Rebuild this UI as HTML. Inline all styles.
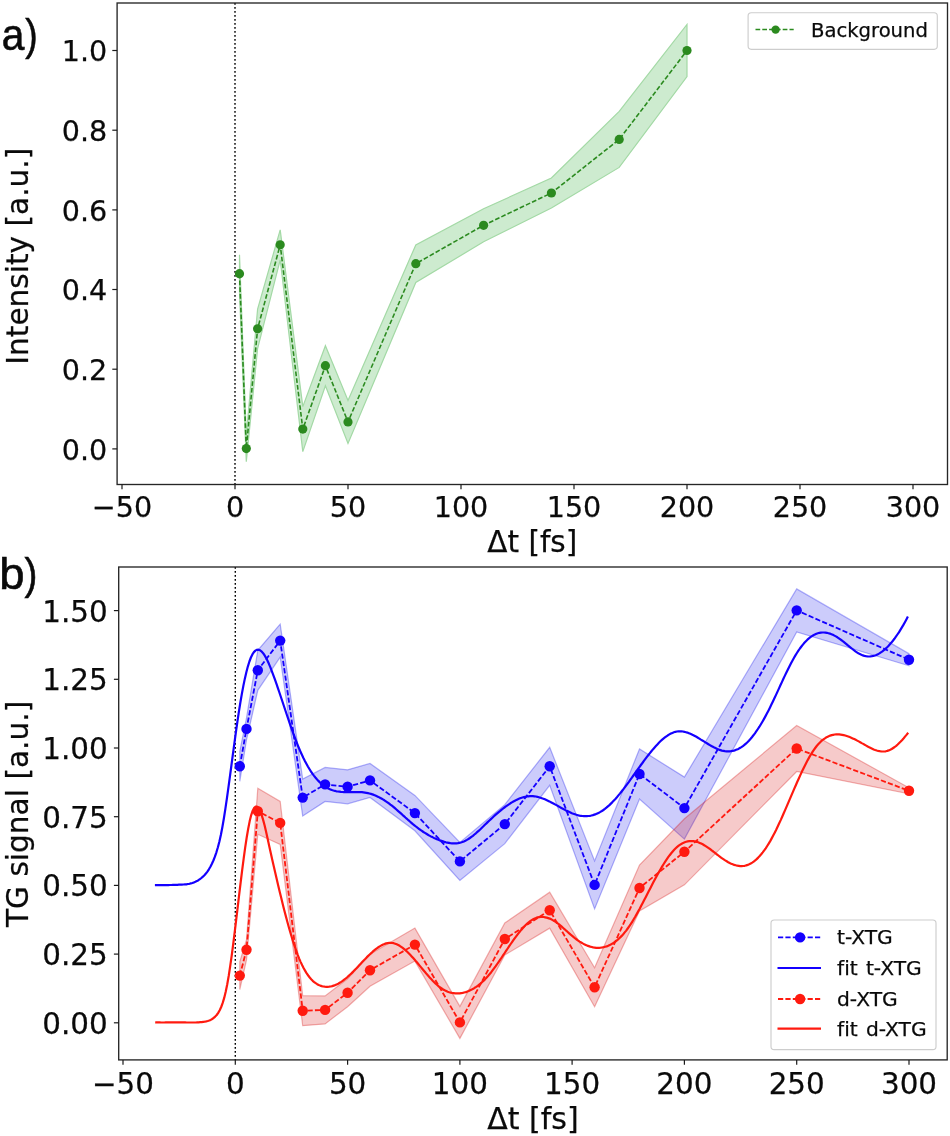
<!DOCTYPE html>
<html lang="en"><head><meta charset="utf-8"><title>Background and TG signal vs delay</title>
<style>html,body{margin:0;padding:0;background:#fff}body{width:950px;height:1136px;overflow:hidden}svg{display:block}text{font-family:"DejaVu Sans", "Liberation Sans", sans-serif;fill:#0a0a0a;stroke:#0a0a0a;stroke-width:.25px;font-variant-ligatures:none;font-kerning:none}</style>
</head><body>
<svg width="950" height="1136" viewBox="0 0 950 1136">
<rect width="950" height="1136" fill="#fff"/>
<g id="panel-a">
<line x1="235" y1="3" x2="235" y2="484.5" stroke="#000" stroke-width="1.4" stroke-dasharray="1.7 2.3"/>
<polygon points="239.5,254.7 246.3,435.4 257.6,309.1 280.2,229.8 302.8,406.6 325.4,345.7 348,400.4 415.8,244.9 483.6,208.8 551.4,178 619.2,111.4 687,24.5 687,76.5 619.2,167.4 551.4,208 483.6,241.8 415.8,282.5 348,443.4 325.4,385.7 302.8,451.6 280.2,259.8 257.6,348.5 246.3,461.8 239.5,292.7" fill="#cdebcf" stroke="#a3d9a5" stroke-width="1.2" stroke-linejoin="miter"/>
<polyline points="239.5,273.7 246.3,448.6 257.6,328.8 280.2,244.8 302.8,429.1 325.4,365.7 348,421.9 415.8,263.7 483.6,225.3 551.4,193 619.2,139.4 687,50.5" fill="none" stroke="#2b8a1f" stroke-width="1.6" stroke-dasharray="4.7 2.1"/>
<circle cx="239.5" cy="273.7" r="4.6" fill="#2b8a1f"/>
<circle cx="246.3" cy="448.6" r="4.6" fill="#2b8a1f"/>
<circle cx="257.6" cy="328.8" r="4.6" fill="#2b8a1f"/>
<circle cx="280.2" cy="244.8" r="4.6" fill="#2b8a1f"/>
<circle cx="302.8" cy="429.1" r="4.6" fill="#2b8a1f"/>
<circle cx="325.4" cy="365.7" r="4.6" fill="#2b8a1f"/>
<circle cx="348" cy="421.9" r="4.6" fill="#2b8a1f"/>
<circle cx="415.8" cy="263.7" r="4.6" fill="#2b8a1f"/>
<circle cx="483.6" cy="225.3" r="4.6" fill="#2b8a1f"/>
<circle cx="551.4" cy="193" r="4.6" fill="#2b8a1f"/>
<circle cx="619.2" cy="139.4" r="4.6" fill="#2b8a1f"/>
<circle cx="687" cy="50.5" r="4.6" fill="#2b8a1f"/>
<rect x="117.1" y="3" width="830.4" height="481.5" fill="none" stroke="#262626" stroke-width="1.35"/>
<line x1="122" y1="484.5" x2="122" y2="489.3" stroke="#1a1a1a" stroke-width="1.2"/>
<text x="122" y="516.8" font-size="28.6" text-anchor="middle">−50</text>
<line x1="235" y1="484.5" x2="235" y2="489.3" stroke="#1a1a1a" stroke-width="1.2"/>
<text x="235" y="516.8" font-size="28.6" text-anchor="middle">0</text>
<line x1="348" y1="484.5" x2="348" y2="489.3" stroke="#1a1a1a" stroke-width="1.2"/>
<text x="348" y="516.8" font-size="28.6" text-anchor="middle">50</text>
<line x1="461" y1="484.5" x2="461" y2="489.3" stroke="#1a1a1a" stroke-width="1.2"/>
<text x="461" y="516.8" font-size="28.6" text-anchor="middle">100</text>
<line x1="574" y1="484.5" x2="574" y2="489.3" stroke="#1a1a1a" stroke-width="1.2"/>
<text x="574" y="516.8" font-size="28.6" text-anchor="middle">150</text>
<line x1="687" y1="484.5" x2="687" y2="489.3" stroke="#1a1a1a" stroke-width="1.2"/>
<text x="687" y="516.8" font-size="28.6" text-anchor="middle">200</text>
<line x1="800" y1="484.5" x2="800" y2="489.3" stroke="#1a1a1a" stroke-width="1.2"/>
<text x="800" y="516.8" font-size="28.6" text-anchor="middle">250</text>
<line x1="913" y1="484.5" x2="913" y2="489.3" stroke="#1a1a1a" stroke-width="1.2"/>
<text x="913" y="516.8" font-size="28.6" text-anchor="middle">300</text>
<line x1="112.3" y1="448.9" x2="117.1" y2="448.9" stroke="#1a1a1a" stroke-width="1.2"/>
<text x="107.3" y="459.6" font-size="28.6" text-anchor="end">0.0</text>
<line x1="112.3" y1="369.2" x2="117.1" y2="369.2" stroke="#1a1a1a" stroke-width="1.2"/>
<text x="107.3" y="379.9" font-size="28.6" text-anchor="end">0.2</text>
<line x1="112.3" y1="289.5" x2="117.1" y2="289.5" stroke="#1a1a1a" stroke-width="1.2"/>
<text x="107.3" y="300.2" font-size="28.6" text-anchor="end">0.4</text>
<line x1="112.3" y1="209.9" x2="117.1" y2="209.9" stroke="#1a1a1a" stroke-width="1.2"/>
<text x="107.3" y="220.6" font-size="28.6" text-anchor="end">0.6</text>
<line x1="112.3" y1="130.2" x2="117.1" y2="130.2" stroke="#1a1a1a" stroke-width="1.2"/>
<text x="107.3" y="140.9" font-size="28.6" text-anchor="end">0.8</text>
<line x1="112.3" y1="50.5" x2="117.1" y2="50.5" stroke="#1a1a1a" stroke-width="1.2"/>
<text x="107.3" y="61.2" font-size="28.6" text-anchor="end">1.0</text>
<text x="532.3" y="552.3" font-size="29.5" text-anchor="middle">Δt [fs]</text>
<text transform="translate(27.9,256.2) rotate(-90)" font-size="29.6" text-anchor="middle">Intensity [a.u.]</text>
<rect x="748.1" y="12.7" width="189.2" height="36.6" rx="3.2" fill="#fff" stroke="#cdcdcd" stroke-width="1.15"/>
<line x1="755.5" y1="29.6" x2="793.7" y2="29.6" stroke="#2b8a1f" stroke-width="1.5" stroke-dasharray="4.7 2.1"/>
<circle cx="775.6" cy="29.6" r="4.2" fill="#2b8a1f"/>
<text x="811" y="36.5" font-size="19.6" style="font-kerning:normal">Background</text>
</g>
<g id="panel-b">
<line x1="235.3" y1="567" x2="235.3" y2="1059.9" stroke="#000" stroke-width="1.4" stroke-dasharray="1.7 2.3"/>
<polygon points="239.8,751.3 246.5,717.9 257.8,650.3 280.2,624.1 302.7,779.1 325.1,767.4 347.6,769.8 370,763.4 414.9,795.4 459.9,842.4 504.8,804.6 549.7,747.3 594.6,860.9 639.5,749 684.4,777.1 796.7,588.9 909,653.7 909,665.7 796.7,631.9 684.4,839.1 639.5,799 594.6,908.9 549.7,785.3 504.8,843.6 459.9,880.4 414.9,830.8 370,797.4 347.6,803.8 325.1,801.4 302.7,816.1 280.2,657.1 257.8,690.3 246.5,739.9 239.8,781.3" fill="rgba(0,0,235,.2)" stroke="rgba(0,0,235,.3)" stroke-width="1.2" stroke-linejoin="miter"/>
<polygon points="239.8,961.6 246.5,939.8 257.8,788.3 280.2,801.4 302.7,995.7 325.1,995.9 347.6,978.7 370,954.2 414.9,928.1 459.9,1006.4 504.8,923 549.7,892.2 594.6,967.8 639.5,865 684.4,818.8 796.7,725.5 909,787.8 909,793.8 796.7,771.5 684.4,884.8 639.5,911 594.6,1006.8 549.7,928.2 504.8,955 459.9,1038.4 414.9,961.1 370,986.2 347.6,1006.7 325.1,1023.9 302.7,1025.7 280.2,844.4 257.8,834.3 246.5,959.8 239.8,989.6" fill="rgba(212,0,0,.208)" stroke="rgba(212,0,0,.3)" stroke-width="1.2" stroke-linejoin="miter"/>
<polyline points="239.8,766.3 246.5,728.9 257.8,670.3 280.2,640.6 302.7,797.6 325.1,784.4 347.6,786.8 370,780.4 414.9,813.1 459.9,861.4 504.8,824.1 549.7,766.3 594.6,884.9 639.5,774 684.4,808.1 796.7,610.4 909,659.7" fill="none" stroke="#1400ff" stroke-width="1.8" stroke-dasharray="5.2 2.2"/>
<circle cx="239.8" cy="766.3" r="5.2" fill="#1400ff"/>
<circle cx="246.5" cy="728.9" r="5.2" fill="#1400ff"/>
<circle cx="257.8" cy="670.3" r="5.2" fill="#1400ff"/>
<circle cx="280.2" cy="640.6" r="5.2" fill="#1400ff"/>
<circle cx="302.7" cy="797.6" r="5.2" fill="#1400ff"/>
<circle cx="325.1" cy="784.4" r="5.2" fill="#1400ff"/>
<circle cx="347.6" cy="786.8" r="5.2" fill="#1400ff"/>
<circle cx="370" cy="780.4" r="5.2" fill="#1400ff"/>
<circle cx="414.9" cy="813.1" r="5.2" fill="#1400ff"/>
<circle cx="459.9" cy="861.4" r="5.2" fill="#1400ff"/>
<circle cx="504.8" cy="824.1" r="5.2" fill="#1400ff"/>
<circle cx="549.7" cy="766.3" r="5.2" fill="#1400ff"/>
<circle cx="594.6" cy="884.9" r="5.2" fill="#1400ff"/>
<circle cx="639.5" cy="774" r="5.2" fill="#1400ff"/>
<circle cx="684.4" cy="808.1" r="5.2" fill="#1400ff"/>
<circle cx="796.7" cy="610.4" r="5.2" fill="#1400ff"/>
<circle cx="909" cy="659.7" r="5.2" fill="#1400ff"/>
<path d="M154.9,885.1L156.4,885.1L157.9,885.1L159.4,885.1L160.9,885.1L162.4,885.1L163.9,885.1L165.4,885.1L166.9,885.1L168.4,885.1L169.9,885L171.4,885L172.9,884.9L174.4,884.9L175.9,884.8L177.4,884.8L178.9,884.7L180.4,884.7L181.9,884.6L183.4,884.5L184.9,884.4L186.4,884.3L187.9,884L189.4,883.8L190.9,883.4L192.4,883L193.9,882.4L195.4,881.8L196.9,881.1L198.4,880.2L199.9,879.2L201.4,878L202.9,876.7L204.4,875.2L205.9,873.5L207.4,871.6L208.9,869.3L210.4,866.8L211.9,863.8L213.4,860.5L214.9,856.7L216.4,852.3L217.9,847.3L219.4,841.5L220.9,834.8L222.4,827L223.9,818.2L225.4,808.6L226.9,798.4L228.4,787.7L229.9,776.7L231.4,765.5L232.9,754.2L234.4,743.1L235.9,732.2L237.4,721.6L238.9,711.6L240.4,702.3L241.9,693.6L243.4,685.6L244.9,678.4L246.4,672L247.9,666.3L249.4,661.5L250.9,657.5L252.4,654.4L253.9,652.1L255.4,650.6L256.9,649.8L258.4,649.7L259.9,650.2L261.4,651.3L262.9,652.9L264.4,655L265.9,657.6L267.4,660.5L268.9,663.8L270.4,667.4L271.9,671.3L273.4,675.3L274.9,679.4L276.4,683.7L277.9,688.1L279.4,692.5L280.9,697L282.4,701.5L283.9,706L285.4,710.5L286.9,715L288.4,719.4L289.9,723.8L291.4,728.1L292.9,732.4L294.4,736.5L295.9,740.5L297.4,744.3L298.9,748L300.4,751.5L301.9,754.8L303.4,758L304.9,761L306.4,763.8L307.9,766.5L309.4,769L310.9,771.4L312.4,773.6L313.9,775.6L315.4,777.5L316.9,779.3L318.4,780.9L319.9,782.4L321.4,783.8L322.9,785L324.4,786.1L325.9,787.1L327.4,788L328.9,788.8L330.4,789.4L331.9,790L333.4,790.5L334.9,790.9L336.4,791.3L337.9,791.5L339.4,791.7L340.9,791.9L342.4,792L343.9,792.1L345.4,792.1L346.9,792.2L348.4,792.2L349.9,792.1L351.4,792.1L352.9,792.1L354.4,792.1L355.9,792.1L357.4,792.1L358.9,792.1L360.4,792.2L361.9,792.2L363.4,792.4L364.9,792.6L366.4,792.8L367.9,793.1L369.4,793.5L370.9,793.9L372.4,794.4L373.9,794.9L375.4,795.5L376.9,796.2L378.4,796.9L379.9,797.7L381.4,798.5L382.9,799.4L384.4,800.3L385.9,801.3L387.4,802.3L388.9,803.4L390.4,804.6L391.9,805.7L393.4,806.9L394.9,808.2L396.4,809.5L397.9,810.8L399.4,812.1L400.9,813.4L402.4,814.8L403.9,816.1L405.4,817.5L406.9,818.8L408.4,820.2L409.9,821.5L411.4,822.8L412.9,824.1L414.4,825.3L415.9,826.5L417.4,827.7L418.9,828.8L420.4,829.9L421.9,830.9L423.4,832L424.9,832.9L426.4,833.8L427.9,834.7L429.4,835.6L430.9,836.4L432.4,837.1L433.9,837.9L435.4,838.5L436.9,839.2L438.4,839.8L439.9,840.4L441.4,840.9L442.9,841.4L444.4,841.9L445.9,842.3L447.4,842.6L448.9,842.9L450.4,843.2L451.9,843.3L453.4,843.4L454.9,843.4L456.4,843.3L457.9,843.1L459.4,842.8L460.9,842.5L462.4,842L463.9,841.4L465.4,840.7L466.9,839.9L468.4,839L469.9,838L471.4,836.9L472.9,835.8L474.4,834.5L475.9,833.3L477.4,831.9L478.9,830.6L480.4,829.2L481.9,827.7L483.4,826.3L484.9,824.8L486.4,823.4L487.9,821.9L489.4,820.5L490.9,819.1L492.4,817.7L493.9,816.3L495.4,814.9L496.9,813.6L498.4,812.3L499.9,811.1L501.4,809.8L502.9,808.6L504.4,807.5L505.9,806.4L507.4,805.3L508.9,804.3L510.4,803.3L511.9,802.4L513.4,801.5L514.9,800.7L516.4,799.9L517.9,799.2L519.4,798.6L520.9,798L522.4,797.5L523.9,797.1L525.4,796.8L526.9,796.5L528.4,796.3L529.9,796.2L531.4,796.1L532.9,796.2L534.4,796.3L535.9,796.5L537.4,796.8L538.9,797.2L540.4,797.7L541.9,798.2L543.4,798.7L544.9,799.3L546.4,800L547.9,800.7L549.4,801.4L550.9,802.2L552.4,803L553.9,803.8L555.4,804.6L556.9,805.4L558.4,806.3L559.9,807.1L561.4,808L562.9,808.8L564.4,809.6L565.9,810.4L567.4,811.1L568.9,811.8L570.4,812.5L571.9,813.2L573.4,813.8L574.9,814.3L576.4,814.8L577.9,815.2L579.4,815.6L580.9,815.8L582.4,816L583.9,816.1L585.4,816.2L586.9,816.1L588.4,816L589.9,815.8L591.4,815.5L592.9,815.1L594.4,814.6L595.9,814.1L597.4,813.4L598.9,812.7L600.4,811.9L601.9,811L603.4,810L604.9,808.9L606.4,807.7L607.9,806.4L609.4,805.1L610.9,803.6L612.4,802.1L613.9,800.5L615.4,798.9L616.9,797.2L618.4,795.4L619.9,793.6L621.4,791.7L622.9,789.8L624.4,787.8L625.9,785.8L627.4,783.8L628.9,781.8L630.4,779.7L631.9,777.6L633.4,775.5L634.9,773.4L636.4,771.3L637.9,769.2L639.4,767.1L640.9,765L642.4,763L643.9,760.9L645.4,758.9L646.9,756.9L648.4,755L649.9,753.1L651.4,751.2L652.9,749.4L654.4,747.7L655.9,746L657.4,744.4L658.9,742.8L660.4,741.3L661.9,739.9L663.4,738.6L664.9,737.4L666.4,736.3L667.9,735.3L669.4,734.4L670.9,733.5L672.4,732.9L673.9,732.3L675.4,731.8L676.9,731.5L678.4,731.3L679.9,731.3L681.4,731.3L682.9,731.5L684.4,731.8L685.9,732.2L687.4,732.6L688.9,733.2L690.4,733.8L691.9,734.5L693.4,735.2L694.9,736L696.4,736.8L697.9,737.7L699.4,738.6L700.9,739.6L702.4,740.5L703.9,741.4L705.4,742.4L706.9,743.3L708.4,744.2L709.9,745.1L711.4,746L712.9,746.8L714.4,747.6L715.9,748.3L717.4,749L718.9,749.6L720.4,750.1L721.9,750.6L723.4,750.9L724.9,751.2L726.4,751.3L727.9,751.4L729.4,751.3L730.9,751.2L732.4,750.9L733.9,750.6L735.4,750.1L736.9,749.5L738.4,748.9L739.9,748L741.4,747.1L742.9,746.1L744.4,744.9L745.9,743.6L747.4,742.2L748.9,740.7L750.4,739L751.9,737.2L753.4,735.3L754.9,733.3L756.4,731.2L757.9,729L759.4,726.7L760.9,724.2L762.4,721.7L763.9,719.1L765.4,716.4L766.9,713.6L768.4,710.7L769.9,707.7L771.4,704.6L772.9,701.5L774.4,698.3L775.9,695.1L777.4,691.9L778.9,688.6L780.4,685.3L781.9,682.1L783.4,678.8L784.9,675.6L786.4,672.5L787.9,669.4L789.4,666.4L790.9,663.5L792.4,660.7L793.9,658L795.4,655.4L796.9,653L798.4,650.7L799.9,648.5L801.4,646.5L802.9,644.6L804.4,642.8L805.9,641.2L807.4,639.7L808.9,638.4L810.4,637.2L811.9,636.1L813.4,635.2L814.9,634.4L816.4,633.7L817.9,633.2L819.4,632.8L820.9,632.6L822.4,632.5L823.9,632.5L825.4,632.6L826.9,632.8L828.4,633.2L829.9,633.6L831.4,634.2L832.9,634.8L834.4,635.6L835.9,636.4L837.4,637.3L838.9,638.3L840.4,639.4L841.9,640.5L843.4,641.7L844.9,642.9L846.4,644.1L847.9,645.4L849.4,646.6L850.9,647.8L852.4,649L853.9,650.2L855.4,651.3L856.9,652.3L858.4,653.3L859.9,654.1L861.4,654.8L862.9,655.4L864.4,655.9L865.9,656.2L867.4,656.4L868.9,656.5L870.4,656.4L871.9,656.2L873.4,655.9L874.9,655.5L876.4,654.9L877.9,654.2L879.4,653.4L880.9,652.4L882.4,651.4L883.9,650.2L885.4,648.9L886.9,647.5L888.4,646L889.9,644.3L891.4,642.6L892.9,640.7L894.4,638.8L895.9,636.7L897.4,634.5L898.9,632.3L900.4,629.9L901.9,627.4L903.4,624.9L904.9,622.2L906.4,619.4L907.9,616.6" fill="none" stroke="#1400ff" stroke-width="2.2" stroke-linejoin="round"/>
<polyline points="239.8,975.6 246.5,949.8 257.8,811.3 280.2,822.9 302.7,1010.7 325.1,1009.9 347.6,992.7 370,970.2 414.9,944.6 459.9,1022.4 504.8,939 549.7,910.2 594.6,987.3 639.5,888 684.4,851.8 796.7,748.5 909,790.8" fill="none" stroke="#ff1a0f" stroke-width="1.8" stroke-dasharray="5.2 2.2"/>
<circle cx="239.8" cy="975.6" r="5.2" fill="#ff1a0f"/>
<circle cx="246.5" cy="949.8" r="5.2" fill="#ff1a0f"/>
<circle cx="257.8" cy="811.3" r="5.2" fill="#ff1a0f"/>
<circle cx="280.2" cy="822.9" r="5.2" fill="#ff1a0f"/>
<circle cx="302.7" cy="1010.7" r="5.2" fill="#ff1a0f"/>
<circle cx="325.1" cy="1009.9" r="5.2" fill="#ff1a0f"/>
<circle cx="347.6" cy="992.7" r="5.2" fill="#ff1a0f"/>
<circle cx="370" cy="970.2" r="5.2" fill="#ff1a0f"/>
<circle cx="414.9" cy="944.6" r="5.2" fill="#ff1a0f"/>
<circle cx="459.9" cy="1022.4" r="5.2" fill="#ff1a0f"/>
<circle cx="504.8" cy="939" r="5.2" fill="#ff1a0f"/>
<circle cx="549.7" cy="910.2" r="5.2" fill="#ff1a0f"/>
<circle cx="594.6" cy="987.3" r="5.2" fill="#ff1a0f"/>
<circle cx="639.5" cy="888" r="5.2" fill="#ff1a0f"/>
<circle cx="684.4" cy="851.8" r="5.2" fill="#ff1a0f"/>
<circle cx="796.7" cy="748.5" r="5.2" fill="#ff1a0f"/>
<circle cx="909" cy="790.8" r="5.2" fill="#ff1a0f"/>
<path d="M155.2,1022.3L156.7,1022.4L158.2,1022.4L159.7,1022.4L161.2,1022.5L162.7,1022.5L164.2,1022.5L165.7,1022.4L167.2,1022.4L168.7,1022.4L170.2,1022.4L171.7,1022.4L173.2,1022.3L174.7,1022.3L176.2,1022.3L177.7,1022.3L179.2,1022.3L180.7,1022.3L182.2,1022.4L183.7,1022.4L185.2,1022.4L186.7,1022.5L188.2,1022.5L189.7,1022.5L191.2,1022.5L192.7,1022.5L194.2,1022.5L195.7,1022.5L197.2,1022.4L198.7,1022.3L200.2,1022.2L201.7,1022.1L203.2,1021.9L204.7,1021.7L206.2,1021.4L207.7,1021L209.2,1020.5L210.7,1019.9L212.2,1019L213.7,1017.9L215.2,1016.6L216.7,1015L218.2,1012.9L219.7,1010.3L221.2,1007L222.7,1002.9L224.2,997.9L225.7,991.8L227.2,984.5L228.7,976L230.2,966.2L231.7,955.6L233.2,944.1L234.7,932.1L236.2,919.7L237.7,907.1L239.2,894.4L240.7,882L242.2,869.8L243.7,858.3L245.2,847.4L246.7,837.5L248.2,828.7L249.7,821.1L251.2,815.1L252.7,810.7L254.2,807.8L255.7,806.5L257.2,806.7L258.7,808.3L260.2,811.1L261.7,815.1L263.2,820.1L264.7,825.8L266.2,832.2L267.7,839L269.2,845.9L270.7,852.7L272.2,859.4L273.7,866L275.2,872.5L276.7,879L278.2,885.4L279.7,891.7L281.2,897.8L282.7,903.9L284.2,909.9L285.7,915.6L287.2,921.3L288.7,926.7L290.2,932L291.7,937L293.2,941.8L294.7,946.4L296.2,950.7L297.7,954.8L299.2,958.6L300.7,962.1L302.2,965.3L303.7,968.3L305.2,970.9L306.7,973.4L308.2,975.5L309.7,977.5L311.2,979.2L312.7,980.8L314.2,982.1L315.7,983.2L317.2,984.2L318.7,985L320.2,985.6L321.7,986.1L323.2,986.5L324.7,986.7L326.2,986.8L327.7,986.8L329.2,986.7L330.7,986.5L332.2,986.1L333.7,985.6L335.2,985.1L336.7,984.4L338.2,983.7L339.7,982.8L341.2,981.9L342.7,980.9L344.2,979.7L345.7,978.5L347.2,977.3L348.7,975.9L350.2,974.5L351.7,973.1L353.2,971.6L354.7,970L356.2,968.5L357.7,966.9L359.2,965.3L360.7,963.7L362.2,962.1L363.7,960.5L365.2,959L366.7,957.4L368.2,955.9L369.7,954.5L371.2,953.1L372.7,951.7L374.2,950.4L375.7,949.2L377.2,948.1L378.7,947L380.2,946.1L381.7,945.3L383.2,944.5L384.7,943.9L386.2,943.4L387.7,943.1L389.2,942.9L390.7,942.8L392.2,943L393.7,943.2L395.2,943.7L396.7,944.3L398.2,945L399.7,945.8L401.2,946.8L402.7,947.9L404.2,949.1L405.7,950.4L407.2,951.8L408.7,953.3L410.2,954.8L411.7,956.4L413.2,958.1L414.7,959.8L416.2,961.6L417.7,963.3L419.2,965.1L420.7,966.9L422.2,968.7L423.7,970.5L425.2,972.3L426.7,974.1L428.2,975.8L429.7,977.5L431.2,979.1L432.7,980.7L434.2,982.2L435.7,983.7L437.2,985L438.7,986.3L440.2,987.5L441.7,988.5L443.2,989.5L444.7,990.3L446.2,991L447.7,991.7L449.2,992.2L450.7,992.6L452.2,993L453.7,993.2L455.2,993.4L456.7,993.4L458.2,993.4L459.7,993.3L461.2,993.1L462.7,992.9L464.2,992.5L465.7,992.1L467.2,991.6L468.7,991L470.2,990.3L471.7,989.6L473.2,988.8L474.7,987.8L476.2,986.9L477.7,985.8L479.2,984.6L480.7,983.4L482.2,982L483.7,980.6L485.2,979.1L486.7,977.5L488.2,975.8L489.7,974L491.2,972.2L492.7,970.2L494.2,968.2L495.7,966.2L497.2,964L498.7,961.9L500.2,959.7L501.7,957.5L503.2,955.2L504.7,953L506.2,950.7L507.7,948.5L509.2,946.2L510.7,944L512.2,941.9L513.7,939.7L515.2,937.6L516.7,935.6L518.2,933.6L519.7,931.7L521.2,929.9L522.7,928.2L524.2,926.5L525.7,925L527.2,923.6L528.7,922.3L530.2,921.1L531.7,920.1L533.2,919.2L534.7,918.5L536.2,917.9L537.7,917.4L539.2,917.1L540.7,917L542.2,917L543.7,917L545.2,917.3L546.7,917.6L548.2,918.1L549.7,918.6L551.2,919.3L552.7,920.1L554.2,921L555.7,921.9L557.2,923L558.7,924.2L560.2,925.4L561.7,926.7L563.2,928L564.7,929.3L566.2,930.7L567.7,932L569.2,933.4L570.7,934.7L572.2,935.9L573.7,937.2L575.2,938.4L576.7,939.5L578.2,940.6L579.7,941.6L581.2,942.5L582.7,943.4L584.2,944.2L585.7,944.9L587.2,945.6L588.7,946.1L590.2,946.6L591.7,947L593.2,947.4L594.7,947.6L596.2,947.8L597.7,947.8L599.2,947.8L600.7,947.7L602.2,947.5L603.7,947.2L605.2,946.8L606.7,946.4L608.2,945.8L609.7,945.1L611.2,944.3L612.7,943.4L614.2,942.4L615.7,941.3L617.2,940.1L618.7,938.8L620.2,937.4L621.7,935.9L623.2,934.2L624.7,932.4L626.2,930.6L627.7,928.5L629.2,926.4L630.7,924.2L632.2,921.8L633.7,919.3L635.2,916.8L636.7,914.1L638.2,911.4L639.7,908.7L641.2,905.8L642.7,903L644.2,900.1L645.7,897.2L647.2,894.2L648.7,891.3L650.2,888.4L651.7,885.5L653.2,882.6L654.7,879.8L656.2,877L657.7,874.2L659.2,871.6L660.7,869L662.2,866.4L663.7,864L665.2,861.6L666.7,859.4L668.2,857.2L669.7,855.2L671.2,853.3L672.7,851.5L674.2,849.8L675.7,848.3L677.2,846.9L678.7,845.7L680.2,844.6L681.7,843.7L683.2,842.9L684.7,842.3L686.2,841.8L687.7,841.4L689.2,841.2L690.7,841.1L692.2,841.1L693.7,841.2L695.2,841.5L696.7,841.8L698.2,842.3L699.7,842.9L701.2,843.6L702.7,844.3L704.2,845.2L705.7,846.1L707.2,847.1L708.7,848.1L710.2,849.2L711.7,850.4L713.2,851.5L714.7,852.7L716.2,853.9L717.7,855L719.2,856.2L720.7,857.3L722.2,858.4L723.7,859.4L725.2,860.4L726.7,861.3L728.2,862.2L729.7,863L731.2,863.7L732.7,864.3L734.2,864.9L735.7,865.3L737.2,865.7L738.7,865.9L740.2,866.1L741.7,866.1L743.2,866L744.7,865.8L746.2,865.4L747.7,864.9L749.2,864.3L750.7,863.5L752.2,862.6L753.7,861.6L755.2,860.4L756.7,859.1L758.2,857.6L759.7,856L761.2,854.3L762.7,852.4L764.2,850.4L765.7,848.3L767.2,846L768.7,843.6L770.2,841.1L771.7,838.4L773.2,835.6L774.7,832.7L776.2,829.7L777.7,826.5L779.2,823.3L780.7,820.1L782.2,816.7L783.7,813.3L785.2,809.9L786.7,806.4L788.2,802.9L789.7,799.4L791.2,795.9L792.7,792.4L794.2,788.9L795.7,785.5L797.2,782L798.7,778.7L800.2,775.4L801.7,772.1L803.2,769L804.7,765.9L806.2,763L807.7,760.1L809.2,757.4L810.7,754.8L812.2,752.4L813.7,750.1L815.2,748L816.7,746L818.2,744.3L819.7,742.7L821.2,741.2L822.7,739.9L824.2,738.8L825.7,737.8L827.2,736.9L828.7,736.2L830.2,735.6L831.7,735.1L833.2,734.8L834.7,734.5L836.2,734.4L837.7,734.4L839.2,734.4L840.7,734.6L842.2,734.8L843.7,735.1L845.2,735.5L846.7,736L848.2,736.5L849.7,737.1L851.2,737.7L852.7,738.4L854.2,739.1L855.7,739.8L857.2,740.6L858.7,741.4L860.2,742.2L861.7,743.1L863.2,743.9L864.7,744.8L866.2,745.6L867.7,746.5L869.2,747.3L870.7,748L872.2,748.7L873.7,749.4L875.2,750L876.7,750.5L878.2,750.9L879.7,751.2L881.2,751.4L882.7,751.5L884.2,751.5L885.7,751.3L887.2,750.9L888.7,750.4L890.2,749.8L891.7,749L893.2,748L894.7,747L896.2,745.8L897.7,744.5L899.2,743L900.7,741.5L902.2,739.9L903.7,738.2L905.2,736.4L906.7,734.6L908.2,732.7" fill="none" stroke="#ff1a0f" stroke-width="2.2" stroke-linejoin="round"/>
<rect x="118.7" y="567" width="828.5" height="492.9" fill="none" stroke="#262626" stroke-width="1.35"/>
<line x1="123" y1="1059.9" x2="123" y2="1064.7" stroke="#1a1a1a" stroke-width="1.2"/>
<text x="123" y="1093.8" font-size="29.4" text-anchor="middle">−50</text>
<line x1="235.3" y1="1059.9" x2="235.3" y2="1064.7" stroke="#1a1a1a" stroke-width="1.2"/>
<text x="235.3" y="1093.8" font-size="29.4" text-anchor="middle">0</text>
<line x1="347.6" y1="1059.9" x2="347.6" y2="1064.7" stroke="#1a1a1a" stroke-width="1.2"/>
<text x="347.6" y="1093.8" font-size="29.4" text-anchor="middle">50</text>
<line x1="459.9" y1="1059.9" x2="459.9" y2="1064.7" stroke="#1a1a1a" stroke-width="1.2"/>
<text x="459.9" y="1093.8" font-size="29.4" text-anchor="middle">100</text>
<line x1="572.1" y1="1059.9" x2="572.1" y2="1064.7" stroke="#1a1a1a" stroke-width="1.2"/>
<text x="572.1" y="1093.8" font-size="29.4" text-anchor="middle">150</text>
<line x1="684.4" y1="1059.9" x2="684.4" y2="1064.7" stroke="#1a1a1a" stroke-width="1.2"/>
<text x="684.4" y="1093.8" font-size="29.4" text-anchor="middle">200</text>
<line x1="796.7" y1="1059.9" x2="796.7" y2="1064.7" stroke="#1a1a1a" stroke-width="1.2"/>
<text x="796.7" y="1093.8" font-size="29.4" text-anchor="middle">250</text>
<line x1="909" y1="1059.9" x2="909" y2="1064.7" stroke="#1a1a1a" stroke-width="1.2"/>
<text x="909" y="1093.8" font-size="29.4" text-anchor="middle">300</text>
<line x1="113.9" y1="1022.8" x2="118.7" y2="1022.8" stroke="#1a1a1a" stroke-width="1.2"/>
<text x="107.7" y="1033.8" font-size="29.4" text-anchor="end">0.00</text>
<line x1="113.9" y1="954.1" x2="118.7" y2="954.1" stroke="#1a1a1a" stroke-width="1.2"/>
<text x="107.7" y="965.1" font-size="29.4" text-anchor="end">0.25</text>
<line x1="113.9" y1="885.4" x2="118.7" y2="885.4" stroke="#1a1a1a" stroke-width="1.2"/>
<text x="107.7" y="896.4" font-size="29.4" text-anchor="end">0.50</text>
<line x1="113.9" y1="816.7" x2="118.7" y2="816.7" stroke="#1a1a1a" stroke-width="1.2"/>
<text x="107.7" y="827.7" font-size="29.4" text-anchor="end">0.75</text>
<line x1="113.9" y1="748" x2="118.7" y2="748" stroke="#1a1a1a" stroke-width="1.2"/>
<text x="107.7" y="759" font-size="29.4" text-anchor="end">1.00</text>
<line x1="113.9" y1="679.3" x2="118.7" y2="679.3" stroke="#1a1a1a" stroke-width="1.2"/>
<text x="107.7" y="690.3" font-size="29.4" text-anchor="end">1.25</text>
<line x1="113.9" y1="610.6" x2="118.7" y2="610.6" stroke="#1a1a1a" stroke-width="1.2"/>
<text x="107.7" y="621.6" font-size="29.4" text-anchor="end">1.50</text>
<text x="533" y="1128.5" font-size="30.0" text-anchor="middle">Δt [fs]</text>
<text transform="translate(27.8,813.9) rotate(-90)" font-size="29.6" text-anchor="middle">TG signal [a.u.]</text>
<rect x="771" y="920" width="165" height="129.6" rx="3.2" fill="#fff" stroke="#cdcdcd" stroke-width="1.15"/>
<line x1="778" y1="937.4" x2="820.6" y2="937.4" stroke="#1400ff" stroke-width="1.8" stroke-dasharray="5.2 2.2"/>
<circle cx="800.1" cy="937.4" r="5.2" fill="#1400ff"/>
<text x="837" y="944.3" font-size="20.25" style="font-kerning:normal;word-spacing:1.8px">t-XTG</text>
<line x1="777.5" y1="968.0" x2="821" y2="968.0" stroke="#1400ff" stroke-width="2.2"/>
<text x="837" y="974.9" font-size="20.25" style="font-kerning:normal;word-spacing:1.8px">fit t-XTG</text>
<line x1="778" y1="999.0" x2="820.6" y2="999.0" stroke="#ff1a0f" stroke-width="1.8" stroke-dasharray="5.2 2.2"/>
<circle cx="800.1" cy="999.0" r="5.2" fill="#ff1a0f"/>
<text x="837" y="1005.9" font-size="20.25" style="font-kerning:normal;word-spacing:1.8px">d-XTG</text>
<line x1="777.5" y1="1028.6" x2="821" y2="1028.6" stroke="#ff1a0f" stroke-width="2.2"/>
<text x="837" y="1036.3" font-size="20.25" style="font-kerning:normal;word-spacing:1.8px">fit d-XTG</text>
</g>
<text transform="translate(1.8,50.2) scale(0.905,1)" font-size="45" style="font-family:'Liberation Sans', 'DejaVu Sans', sans-serif;stroke-width:.6px">a</text>
<text transform="translate(25.2,50.0) scale(0.83,1)" font-size="45" style="font-family:'Liberation Sans', 'DejaVu Sans', sans-serif;stroke-width:.6px">)</text>
<text transform="translate(-0.7,589) scale(1.01,1)" font-size="45" style="font-family:'Liberation Sans', 'DejaVu Sans', sans-serif;stroke-width:.6px">b</text>
<text transform="translate(24.6,588.6) scale(0.86,1)" font-size="45" style="font-family:'Liberation Sans', 'DejaVu Sans', sans-serif;stroke-width:.6px">)</text>
</svg>
</body></html>
